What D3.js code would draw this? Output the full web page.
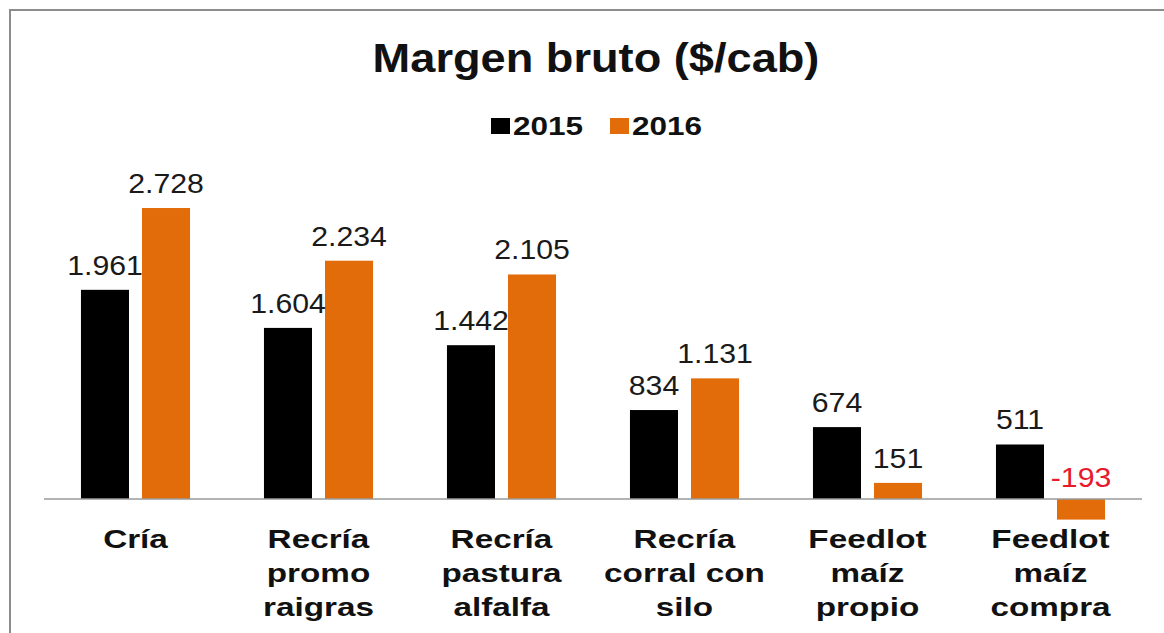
<!DOCTYPE html>
<html>
<head>
<meta charset="utf-8">
<script src="https://cdn.jsdelivr.net/npm/d3@7"></script>
<style>
  body { margin: 0; background: #fff; }
  svg { display: block; font-family: "Liberation Sans", Arial, sans-serif; }
</style>
</head>
<body>
<div id="chart"></div>
<script>
// data
const categories = ["Cría", "Recría\npromo\nraigras", "Recría\npastura\nalfalfa", "Recría\ncorral con\nsilo", "Feedlot\nmaíz\npropio", "Feedlot\nmaíz\ncompra"];
const series = ["2015", "2016"];
const values2015 = [1961, 1604, 1442, 834, 674, 511];
const values2016 = [2728, 2234, 2105, 1131, 151, -193];
const colors = ["#000000", "#e36c0a"];

const width = 1164, height = 633;
const es = d3.formatLocale({decimal: ",", thousands: ".", grouping: [3], currency: ["$", ""], minus: "-"});
const fmt = es.format(",d");

const svg = d3.select("#chart").append("svg")
	.attr("width", width)
	.attr("height", height);

// outer frame
svg.append("rect")
	.attr("x", 10).attr("y", 10)
	.attr("width", 1170).attr("height", 700)
	.attr("fill", "none")
	.attr("stroke", "#8c8c8c")
	.attr("stroke-width", 2);

// text in the picture is drawn a bit wide, so stretch it horizontally
function wideText(parent, x, y, sx) {
	return parent.append("g")
		.attr("transform", `translate(${x},${y}) scale(${sx},1)`)
		.append("text");
}

wideText(svg, 596, 72, 1.13)
	.attr("text-anchor", "middle")
	.style("font-size", "40px")
	.style("font-weight", "bold")
	.attr("fill", "#111")
	.text("Margen bruto ($/cab)");

// legend
const legendX = [491, 610];
series.forEach((s, i) => {
	svg.append("rect")
		.attr("x", legendX[i]).attr("y", 118)
		.attr("width", 19).attr("height", 16)
		.attr("fill", colors[i]);
	wideText(svg, legendX[i] + 22, 135, 1.26)
		.style("font-size", "25px")
		.style("font-weight", "bold")
		.attr("fill", "#111")
		.text(s);
});

const x0 = d3.scaleBand()
	.domain(categories)
	.range([44, 1142])
	.paddingInner(0.404)
	.paddingOuter(0.202);

const x1 = d3.scaleBand()
	.domain(series)
	.range([0, x0.bandwidth()])
	.paddingInner(0.213);

const y = d3.scaleLinear()
	.domain([0, 3000])
	.range([499, 179]);

const rows = categories.map((c, i) => ({
	cat: c,
	vals: [{s: series[0], v: values2015[i]}, {s: series[1], v: values2016[i]}]
}));

const groups = svg.append("g").selectAll("g")
	.data(rows)
	.join("g")
	.attr("transform", d => `translate(${x0(d.cat)},0)`);

groups.selectAll("rect")
	.data(d => d.vals)
	.join("rect")
	.attr("x", d => x1(d.s))
	.attr("width", x1.bandwidth())
	.attr("y", d => y(Math.max(0, d.v)))
	.attr("height", d => Math.abs(y(d.v) - y(0)))
	.attr("fill", (d, i) => colors[i]);

groups.each(function(row) {
	const g = d3.select(this);
	row.vals.forEach(d => {
		const ty = d.v >= 0 ? y(d.v) - 15 : y(0) - 12;
		wideText(g, x1(d.s) + x1.bandwidth() / 2, ty, 1.08)
			.attr("text-anchor", "middle")
			.style("font-size", "28px")
			.attr("fill", d.v >= 0 ? "#1a1a1a" : "#e8192c")
			.text(fmt(d.v));
	});
});

// zero line
svg.append("line")
	.attr("x1", 44).attr("x2", 1142)
	.attr("y1", y(0)).attr("y2", y(0))
	.attr("stroke", "#9a9a9a")
	.attr("stroke-width", 1.5);

// category labels
categories.forEach(c => {
	const t = wideText(svg, x0(c) + x0.bandwidth() / 2, 548, 1.28)
		.attr("text-anchor", "middle")
		.style("font-size", "26px")
		.style("font-weight", "bold")
		.attr("fill", "#111");
	c.split("\n").forEach((line, j) => {
		t.append("tspan")
			.attr("x", 0)
			.attr("dy", j === 0 ? 0 : 34)
			.text(line);
	});
});
</script>
</body>
</html>
